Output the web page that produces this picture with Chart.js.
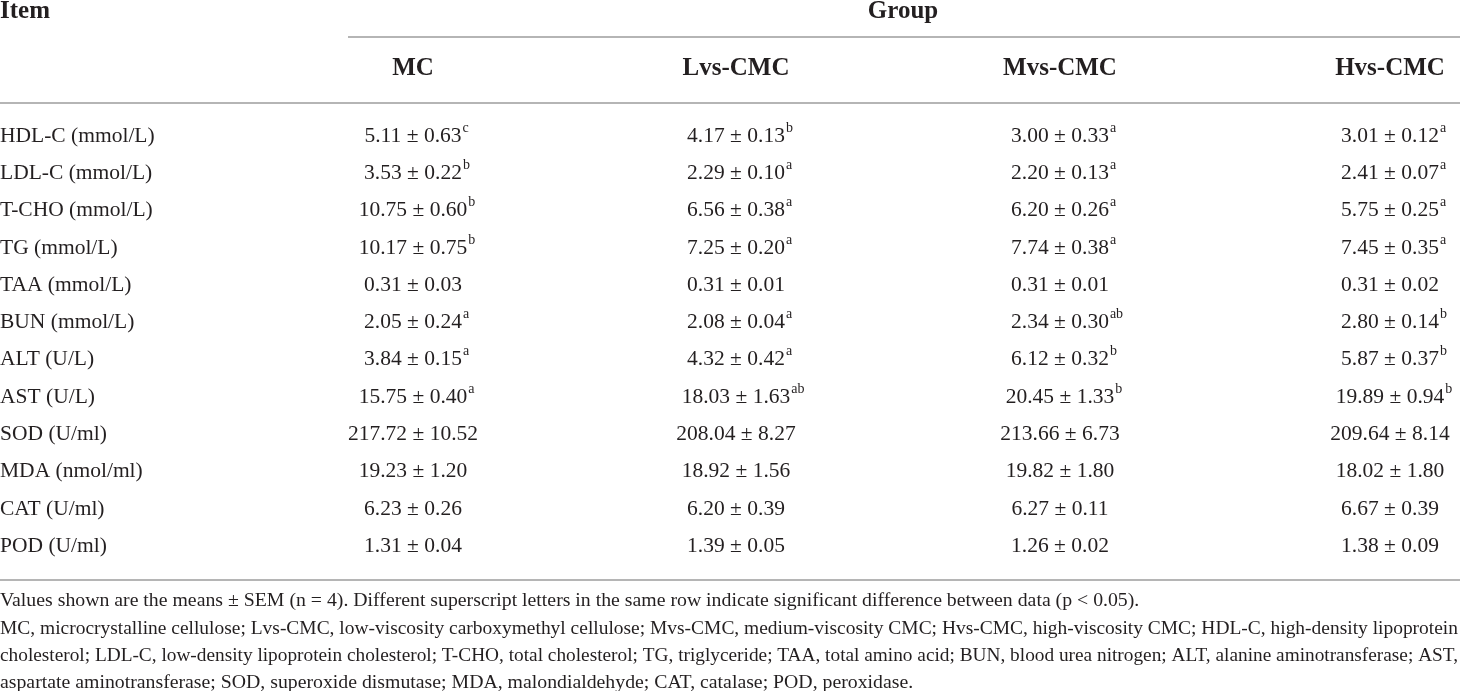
<!DOCTYPE html>
<html>
<head>
<meta charset="utf-8">
<script src="https://cdn.jsdelivr.net/npm/chart.js@4.4.1/dist/chart.umd.min.js"></script>
<style>
  html, body { margin: 0; padding: 0; background: #fff; }
  #wrap { position: relative; width: 1460px; height: 691px; }
</style>
</head>
<body>
<div id="wrap"><canvas id="tableChart"></canvas></div>
<script>
// Table data
const items = ['HDL-C (mmol/L)', 'LDL-C (mmol/L)', 'T-CHO (mmol/L)', 'TG (mmol/L)', 'TAA (mmol/L)', 'BUN (mmol/L)',
               'ALT (U/L)', 'AST (U/L)', 'SOD (U/ml)', 'MDA (nmol/ml)', 'CAT (U/ml)', 'POD (U/ml)'];
const groups = ['MC', 'Lvs-CMC', 'Mvs-CMC', 'Hvs-CMC'];

const mcMean  = [5.11, 3.53, 10.75, 10.17, 0.31, 2.05, 3.84, 15.75, 217.72, 19.23, 6.23, 1.31];
const mcSem   = [0.63, 0.22, 0.60, 0.75, 0.03, 0.24, 0.15, 0.40, 10.52, 1.20, 0.26, 0.04];
const mcSig   = ['c', 'b', 'b', 'b', '', 'a', 'a', 'a', '', '', '', ''];

const lvsMean = [4.17, 2.29, 6.56, 7.25, 0.31, 2.08, 4.32, 18.03, 208.04, 18.92, 6.20, 1.39];
const lvsSem  = [0.13, 0.10, 0.38, 0.20, 0.01, 0.04, 0.42, 1.63, 8.27, 1.56, 0.39, 0.05];
const lvsSig  = ['b', 'a', 'a', 'a', '', 'a', 'a', 'ab', '', '', '', ''];

const mvsMean = [3.00, 2.20, 6.20, 7.74, 0.31, 2.34, 6.12, 20.45, 213.66, 19.82, 6.27, 1.26];
const mvsSem  = [0.33, 0.13, 0.26, 0.38, 0.01, 0.30, 0.32, 1.33, 6.73, 1.80, 0.11, 0.02];
const mvsSig  = ['a', 'a', 'a', 'a', '', 'ab', 'b', 'b', '', '', '', ''];

const hvsMean = [3.01, 2.41, 5.75, 7.45, 0.31, 2.80, 5.87, 19.89, 209.64, 18.02, 6.67, 1.38];
const hvsSem  = [0.12, 0.07, 0.25, 0.35, 0.02, 0.14, 0.37, 0.94, 8.14, 1.80, 0.39, 0.09];
const hvsSig  = ['a', 'a', 'a', 'a', '', 'b', 'b', 'b', '', '', '', ''];

const footnotes = [
    'Values shown are the means \u00b1 SEM (n = 4). Different superscript letters in the same row indicate significant difference between data (p < 0.05).',
    'MC, microcrystalline cellulose; Lvs-CMC, low-viscosity carboxymethyl cellulose; Mvs-CMC, medium-viscosity CMC; Hvs-CMC, high-viscosity CMC; HDL-C, high-density lipoprotein',
    'cholesterol; LDL-C, low-density lipoprotein cholesterol; T-CHO, total cholesterol; TG, triglyceride; TAA, total amino acid; BUN, blood urea nitrogen; ALT, alanine aminotransferase; AST,',
    'aspartate aminotransferase; SOD, superoxide dismutase; MDA, malondialdehyde; CAT, catalase; POD, peroxidase.'
];

const means = [mcMean, lvsMean, mvsMean, hvsMean];
const sems = [mcSem, lvsSem, mvsSem, hvsSem];
const sigs = [mcSig, lvsSig, mvsSig, hvsSig];

// Layout (table units: x in px of the 1460 wide table, y in body rows)
const colX = [413, 736, 1060, 1390];
const itemX = 0;
const rowTop = 136, rowStep = 37.3;
const yOf = px => (px - rowTop) / rowStep;
const titleRow = yOf(12), groupLineRow = yOf(36.5), headRow = yOf(69), headLineRow = yOf(103), endLineRow = yOf(580);
const noteRows = [yOf(601), yOf(629), yOf(656), yOf(683)];
const groupLineX = 348, groupX = 903;

const ink = '#231f20';
const ruleColor = '#b5b5b5';
const serif = '"Liberation Serif", "Times New Roman", serif';

function cellText(g, i) {
    return means[g][i].toFixed(2) + ' \u00b1 ' + sems[g][i].toFixed(2);
}

const datasets = [{
    label: 'Item',
    data: items.map((_, i) => ({ x: itemX, y: i }))
}].concat(groups.map((name, g) => ({
    label: name,
    data: items.map((_, i) => ({ x: colX[g], y: i }))
})));

const tablePlugin = {
    id: 'tableText',
    afterDatasetsDraw(chart) {
        const ctx = chart.ctx;
        const xs = chart.scales.x, ys = chart.scales.y;
        const left = xs.getPixelForValue(0), right = xs.getPixelForValue(1460);
        ctx.save();

        // rules
        ctx.strokeStyle = ruleColor;
        ctx.lineWidth = 2;
        [[groupLineX, groupLineRow], [0, headLineRow], [0, endLineRow]].forEach(([x0, r]) => {
            const y = Math.round(ys.getPixelForValue(r));
            ctx.beginPath();
            ctx.moveTo(xs.getPixelForValue(x0), y);
            ctx.lineTo(right, y);
            ctx.stroke();
        });

        ctx.fillStyle = ink;
        ctx.textBaseline = 'middle';

        // headers
        ctx.font = 'bold 25px ' + serif;
        ctx.textAlign = 'left';
        ctx.fillText('Item', left, ys.getPixelForValue(titleRow));
        ctx.textAlign = 'center';
        ctx.fillText('Group', xs.getPixelForValue(groupX), ys.getPixelForValue(titleRow));
        groups.forEach((name, g) => {
            ctx.fillText(name, xs.getPixelForValue(colX[g]), ys.getPixelForValue(headRow));
        });

        // body cells, positioned by the dataset elements
        chart.data.datasets.forEach((ds, d) => {
            const meta = chart.getDatasetMeta(d);
            meta.data.forEach((pt, i) => {
                ctx.font = '21.5px ' + serif;
                ctx.textAlign = 'left';
                if (d === 0) {
                    ctx.fillText(items[i], pt.x, pt.y);
                    return;
                }
                const g = d - 1;
                const txt = cellText(g, i);
                const w = ctx.measureText(txt).width;
                ctx.fillText(txt, pt.x - w / 2, pt.y);
                if (sigs[g][i]) {
                    ctx.font = '14px ' + serif;
                    ctx.fillText(sigs[g][i], pt.x + w / 2 + 1, pt.y - 8);
                }
            });
        });

        // footnotes (middle lines of the paragraph fill the full width)
        ctx.font = '19.8px ' + serif;
        ctx.textAlign = 'left';
        footnotes.forEach((line, k) => {
            const y = ys.getPixelForValue(noteRows[k]);
            if (k === 1 || k === 2) {
                ctx.fillText(line, left, y, right - left - 2);
            } else {
                ctx.fillText(line, left, y);
            }
        });
        ctx.restore();
    }
};

const ctxTable = document.getElementById('tableChart').getContext('2d');
new Chart(ctxTable, {
    type: 'scatter',
    data: { datasets: datasets },
    options: {
        responsive: true,
        maintainAspectRatio: false,
        animation: false,
        events: [],
        layout: { padding: 0 },
        elements: { point: { radius: 0, hoverRadius: 0 } },
        plugins: { legend: { display: false }, tooltip: { enabled: false } },
        scales: {
            x: { type: 'linear', display: false, min: 0, max: 1460 },
            y: { type: 'linear', display: false, reverse: true, min: yOf(0), max: yOf(691) }
        }
    },
    plugins: [tablePlugin]
});
</script>
</body>
</html>
